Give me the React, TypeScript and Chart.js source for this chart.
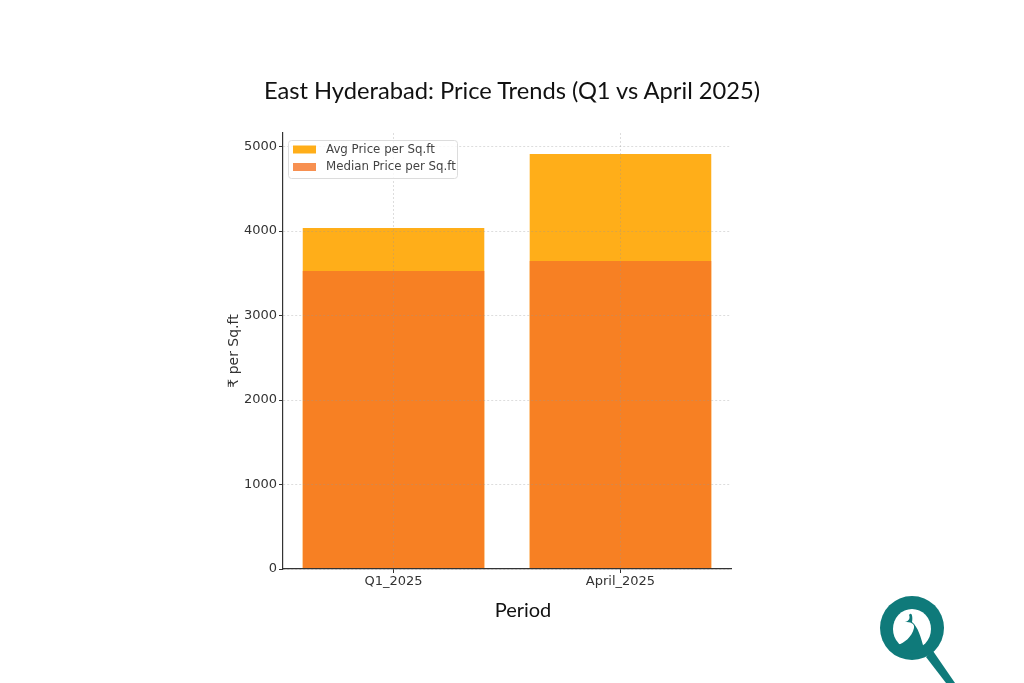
import { useEffect, useRef } from 'react'
import { Chart, registerables } from 'chart.js'

Chart.register(...registerables);

const periods = ['Q1_2025', 'April_2025'];
const avgPrice = [4036, 4911];
const medianPrice = [3527, 3645];
const yTickValues = [0, 1000, 2000, 3000, 4000, 5000];
const yMax = 5160;

const tickFont = { family: 'DejaVu Sans', size: 13 };
const gridColor = 'rgba(150,150,150,0.32)';

// matplotlib style legend box over the top left corner of the plot
const legendBox = {
  id: 'legendBox',
  afterDraw(chart: Chart) {
    const { ctx } = chart;
    ctx.save();
    ctx.beginPath();
    ctx.roundRect(288.5, 140.5, 169, 38, 3);
    ctx.fillStyle = 'rgba(255,255,255,0.8)';
    ctx.fill();
    ctx.strokeStyle = '#dcdcdc';
    ctx.lineWidth = 1;
    ctx.stroke();
    chart.data.datasets.forEach((ds, i) => {
      const y = 149.5 + i * 17.5;
      ctx.fillStyle = ds.backgroundColor as string;
      ctx.fillRect(293, y - 4, 23, 8);
      ctx.fillStyle = '#444';
      ctx.font = '11.8px "DejaVu Sans"';
      ctx.textBaseline = 'middle';
      ctx.fillText(ds.label ?? '', 326, y);
    });
    ctx.restore();
  },
};

function Logo() {
  return (
    <svg width="110" height="98" viewBox="0 0 110 98" style={{ position: 'absolute', left: 860, top: 585 }}>
      <path d="M66 72 L86 98 L95 98 L73 66 Z" fill="#0f7a7a" />
      <circle cx="52" cy="43" r="32" fill="#0f7a7a" />
      <ellipse cx="52" cy="44" rx="19" ry="20" fill="#fff" />
      <path d="M38 60 C44 58 52 52 54 43 C55 38 50 37 45 37 C50 36 50 32 49 30 C52 26 53 33 52 37 C58 42 61 52 64 64 L52 68 L40 62 Z" fill="#0f7a7a" />
    </svg>
  );
}

export default function App() {
  const canvasRef = useRef<HTMLCanvasElement>(null);

  useEffect(() => {
    if (!canvasRef.current) return;
    const chart = new Chart(canvasRef.current, {
      type: 'bar',
      data: {
        datasets: [
          {
            label: 'Avg Price per Sq.ft',
            data: avgPrice.map((y, x) => ({ x, y })),
            backgroundColor: 'rgba(255,165,0,0.9)',
            order: 2,
          },
          {
            label: 'Median Price per Sq.ft',
            data: medianPrice.map((y, x) => ({ x, y })),
            backgroundColor: 'rgba(245,116,37,0.8)',
            order: 1,
          },
        ],
      },
      options: {
        responsive: false,
        animation: false,
        devicePixelRatio: 1,
        layout: { padding: { left: 226, right: 293, top: 133, bottom: 0 } },
        datasets: { bar: { grouped: false, barPercentage: 0.8, categoryPercentage: 1 } },
        plugins: {
          legend: { display: false },
          tooltip: { enabled: false },
        },
        scales: {
          x: {
            type: 'linear',
            offset: false,
            min: -0.487,
            max: 1.487,
            afterBuildTicks: (scale) => { scale.ticks = periods.map((_, i) => ({ value: i })); },
            afterFit: (scale) => { scale.height = 114; },
            ticks: {
              callback: (v) => periods[v as number],
              color: '#333',
              font: tickFont,
              padding: 1,
              maxRotation: 0,
            },
            grid: { offset: false, color: gridColor, z: 1, tickColor: '#333', tickLength: 4 },
            border: { color: '#333', width: 1.2, dash: [2, 2], z: 1 },
          },
          y: {
            min: 0,
            max: yMax,
            afterBuildTicks: (scale) => { scale.ticks = yTickValues.map((value) => ({ value })); },
            afterFit: (scale) => { scale.width = 57; },
            ticks: { callback: (v) => String(v), color: '#333', font: tickFont, padding: 2 },
            title: { display: true, text: '₹ per Sq.ft', color: '#333', font: { family: 'DejaVu Sans', size: 14 }, padding: 0 },
            grid: { color: gridColor, z: 1, tickColor: '#333', tickLength: 4 },
            border: { color: '#333', width: 1.2, dash: [2, 2], z: 1 },
          },
        },
      },
      plugins: [legendBox],
    });
    return () => chart.destroy();
  }, []);

  return (
    <div style={{ position: 'absolute', left: 0, top: 0, width: 1024, height: 683, background: '#fff', overflow: 'hidden' }}>
      <canvas ref={canvasRef} width={1024} height={683} style={{ display: 'block' }} />
      <div style={{ position: 'absolute', left: 0, width: 1024, top: 76, textAlign: 'center', font: '23.7px Lato', color: '#111' }}>
        East Hyderabad: Price Trends (Q1 vs April 2025)
      </div>
      <div style={{ position: 'absolute', left: 423, width: 200, top: 597, textAlign: 'center', font: '20px Lato', color: '#111' }}>
        Period
      </div>
      <Logo />
    </div>
  );
}
